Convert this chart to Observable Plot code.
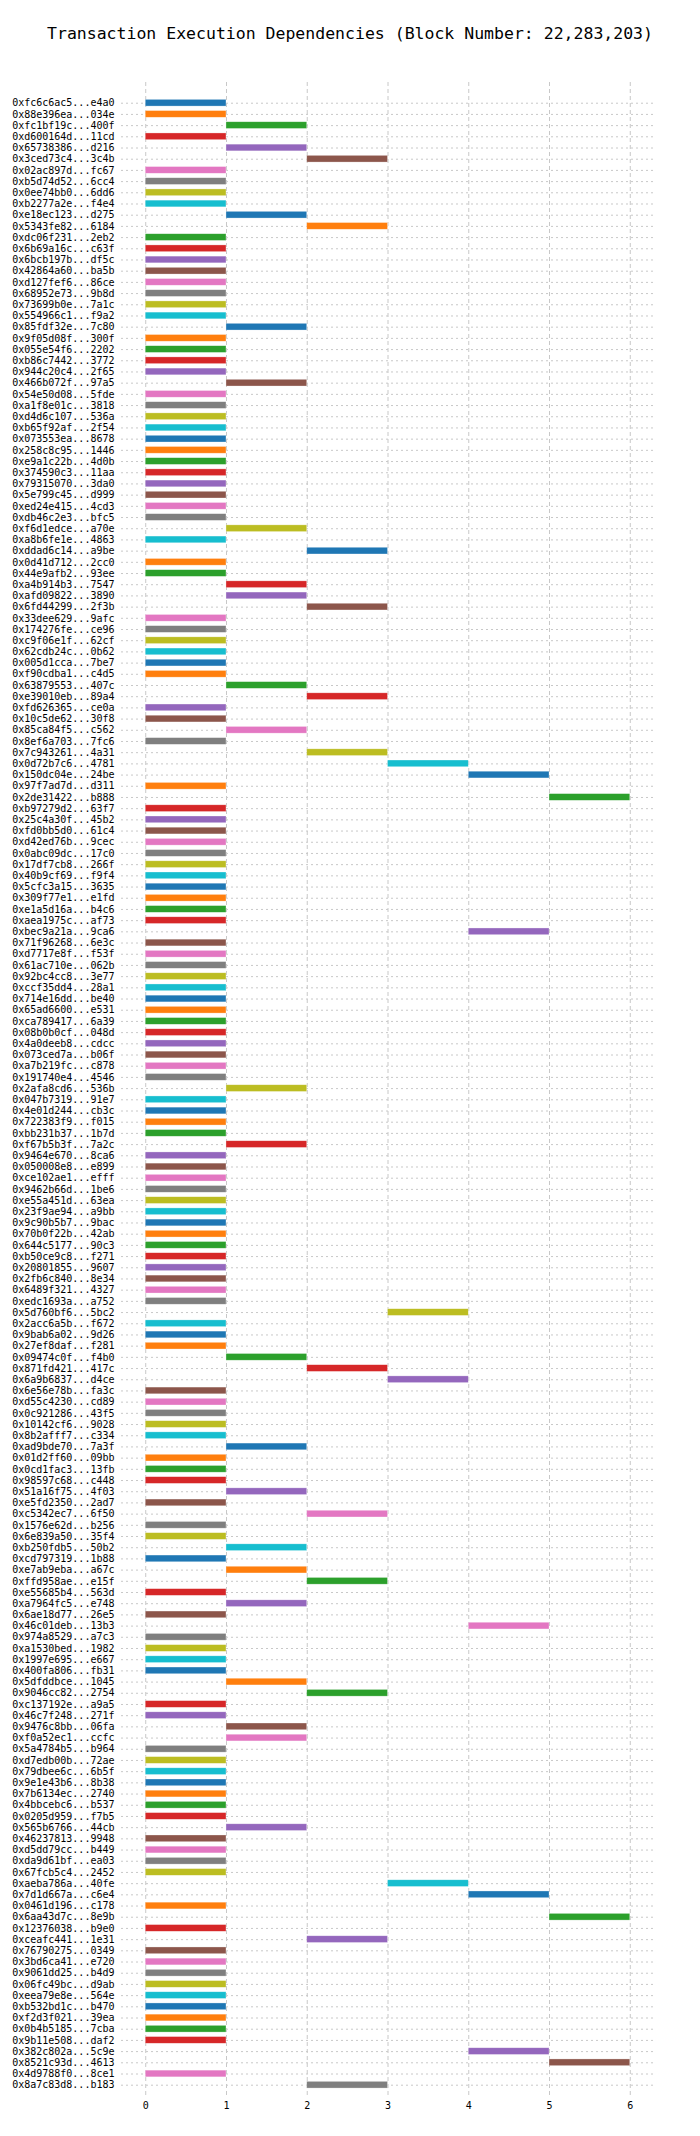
<!DOCTYPE html>
<html>
<head>
<meta charset="utf-8">
<script src="https://cdn.jsdelivr.net/npm/d3@7"></script>
<script src="https://cdn.jsdelivr.net/npm/@observablehq/plot@0.6"></script>
<style>
  html, body { margin: 0; padding: 0; background: #fff; }
  #title { box-sizing: border-box; height: 64px; padding-top: 24px; line-height: 20px;
           text-align: center; font-family: "DejaVu Sans Mono", monospace; font-size: 16.5px; color: #000; }
</style>
</head>
<body>
<div id="title">Transaction Execution Dependencies (Block Number: 22,283,203)</div>
<div id="chart"></div>
<script>
const txLabels = [
  "0xfc6c6ac5...e4a0","0x88e396ea...034e","0xfc1bf19c...400f","0xd600164d...11cd","0x65738386...d216",
  "0x3ced73c4...3c4b","0x02ac897d...fc67","0xb5d74d52...6cc4","0x0ee74bb0...6dd6","0xb2277a2e...f4e4",
  "0xe18ec123...d275","0x5343fe82...6184","0xdc06f231...2eb2","0x6b69a16c...c63f","0x6bcb197b...df5c",
  "0x42864a60...ba5b","0xd127fef6...86ce","0x68952e73...9b8d","0x73699b0e...7a1c","0x554966c1...f9a2",
  "0x85fdf32e...7c80","0x9f05d08f...300f","0x055e54f6...2202","0xb86c7442...3772","0x944c20c4...2f65",
  "0x466b072f...97a5","0x54e50d08...5fde","0xa1f8e01c...3818","0xd4d6c107...536a","0xb65f92af...2f54",
  "0x073553ea...8678","0x258c8c95...1446","0xe9a1c22b...4d0b","0x374590c3...11aa","0x79315070...3da0",
  "0x5e799c45...d999","0xed24e415...4cd3","0xdb46c2e3...bfc5","0xf6d1edce...a70e","0xa8b6fe1e...4863",
  "0xddad6c14...a9be","0x0d41d712...2cc0","0x44e9afb2...93ee","0xa4b914b3...7547","0xafd09822...3890",
  "0x6fd44299...2f3b","0x33dee629...9afc","0x174276fe...ce96","0xc9f06e1f...62cf","0x62cdb24c...0b62",
  "0x005d1cca...7be7","0xf90cdba1...c4d5","0x63879553...407c","0xe39010eb...89a4","0xfd626365...ce0a",
  "0x10c5de62...30f8","0x85ca84f5...c562","0x8ef6a703...7fc6","0x7c943261...4a31","0x0d72b7c6...4781",
  "0x150dc04e...24be","0x97f7ad7d...d311","0x2de31422...b888","0xb97279d2...63f7","0x25c4a30f...45b2",
  "0xfd0bb5d0...61c4","0xd42ed76b...9cec","0x0abc09dc...17c0","0x17df7cb8...266f","0x40b9cf69...f9f4",
  "0x5cfc3a15...3635","0x309f77e1...e1fd","0xe1a5d16a...b4c6","0xaea1975c...af73","0xbec9a21a...9ca6",
  "0x71f96268...6e3c","0xd7717e8f...f53f","0x61ac710e...062b","0x92bc4cc8...3e77","0xccf35dd4...28a1",
  "0x714e16dd...be40","0x65ad6600...e531","0xca789417...6a39","0x08b0b0cf...048d","0x4a0deeb8...cdcc",
  "0x073ced7a...b06f","0xa7b219fc...c878","0x191740e4...4546","0x2afa8cd6...536b","0x047b7319...91e7",
  "0x4e01d244...cb3c","0x722383f9...f015","0xbb231b37...1b7d","0xf67b5b3f...7a2c","0x9464e670...8ca6",
  "0x050008e8...e899","0xce102ae1...efff","0x9462b66d...1be6","0xe55a451d...63ea","0x23f9ae94...a9bb",
  "0x9c90b5b7...9bac","0x70b0f22b...42ab","0x644c5177...90c3","0xb50ce9c8...f271","0x20801855...9607",
  "0x2fb6c840...8e34","0x6489f321...4327","0xedc1693a...a752","0x5d760bf6...5bc2","0x2acc6a5b...f672",
  "0x9bab6a02...9d26","0x27ef8daf...f281","0x09474c0f...f4b0","0x871fd421...417c","0x6a9b6837...d4ce",
  "0x6e56e78b...fa3c","0xd55c4230...cd89","0x0c921286...43f5","0x10142cf6...9028","0x8b2afff7...c334",
  "0xad9bde70...7a3f","0x01d2ff60...09bb","0x0cd1fac3...13fb","0x98597c68...c448","0x51a16f75...4f03",
  "0xe5fd2350...2ad7","0xc5342ec7...6f50","0x1576e62d...b256","0x6e839a50...35f4","0xb250fdb5...50b2",
  "0xcd797319...1b88","0xe7ab9eba...a67c","0xffd958ae...e15f","0xe55685b4...563d","0xa7964fc5...e748",
  "0x6ae18d77...26e5","0x46c01deb...13b3","0x974a8529...a7c3","0xa1530bed...1982","0x1997e695...e667",
  "0x400fa806...fb31","0x5dfddbce...1045","0x9046cc82...2754","0xc137192e...a9a5","0x46c7f248...271f",
  "0x9476c8bb...06fa","0xf0a52ec1...ccfc","0x5a4784b5...b964","0xd7edb00b...72ae","0x79dbee6c...6b5f",
  "0x9e1e43b6...8b38","0x7b6134ec...2740","0x4bbcebc6...b537","0x0205d959...f7b5","0x565b6766...44cb",
  "0x46237813...9948","0xd5dd79cc...b449","0xda9d61bf...ea03","0x67fcb5c4...2452","0xaeba786a...40fe",
  "0x7d1d667a...c6e4","0x0461d196...c178","0x6aa43d7c...8e9b","0x12376038...b9e0","0xceafc441...1e31",
  "0x76790275...0349","0x3bd6ca41...e720","0x9061dd25...b4d9","0x06fc49bc...d9ab","0xeea79e8e...564e",
  "0xb532bd1c...b470","0xf2d3f021...39ea","0x0b4b5185...7cba","0x9b11e508...daf2","0x382c802a...5c9e",
  "0x8521c93d...4613","0x4d9788f0...8ce1","0x8a7c83d8...b183"
];
const startSlots = [
  0,0,1,0,1,2,0,0,0,0,1,2,0,0,0,
  0,0,0,0,0,1,0,0,0,0,1,0,0,0,0,
  0,0,0,0,0,0,0,0,1,0,2,0,0,1,1,
  2,0,0,0,0,0,0,1,2,0,0,1,0,2,3,
  4,0,5,0,0,0,0,0,0,0,0,0,0,0,4,
  0,0,0,0,0,0,0,0,0,0,0,0,0,1,0,
  0,0,0,1,0,0,0,0,0,0,0,0,0,0,0,
  0,0,0,3,0,0,0,1,2,3,0,0,0,0,0,
  1,0,0,0,1,0,2,0,0,1,0,1,2,0,1,
  0,4,0,0,0,0,1,2,0,0,1,1,0,0,0,
  0,0,0,0,1,0,0,0,0,3,4,0,5,0,2,
  0,0,0,0,0,0,0,0,0,4,5,0,2
];
const durations = startSlots.map(() => 1);
const xTicks = [0, 1, 2, 3, 4, 5, 6];

const rows = txLabels.map((label, i) => ({
  i, label, start: startSlots[i], end: startSlots[i] + durations[i], c: i % 10
}));
const idx = rows.map(d => d.i);

const chart = Plot.plot({
  width: 700,
  height: 2072,
  marginTop: 18,
  marginBottom: 41,
  marginLeft: 121,
  marginRight: 46,
  style: { fontFamily: "DejaVu Sans Mono, monospace", fontSize: "10px", color: "#000", background: "#fff" },
  x: { domain: [-0.3, 6.3], ticks: xTicks, tickSize: 0, tickPadding: 6, label: null, tickFormat: d => String(d) },
  y: { domain: [-1.85, 177.92], reverse: true, label: null },
  color: { type: "ordinal", domain: d3.range(10), range: d3.schemeCategory10 },
  marks: [
    Plot.ruleY(idx, { stroke: "#c8c8c8", strokeWidth: 1, strokeDasharray: "2,3" }),
    Plot.ruleX(xTicks, { stroke: "#c8c8c8", strokeWidth: 1, strokeDasharray: "4,3" }),
    Plot.rect(rows, {
      x1: "start", x2: "end",
      y1: d => d.i - 0.3, y2: d => d.i + 0.3,
      fill: "c", stroke: "white", strokeWidth: 0.6, strokeOpacity: 0.5
    }),
    Plot.axisY(idx, { tickSize: 0, tickPadding: 7, tickFormat: i => txLabels[i], fontSize: 10, label: null }),
    Plot.axisX(xTicks, { tickSize: 0, tickPadding: 6, fontSize: 10, label: null })
  ]
});
document.getElementById("chart").appendChild(chart);
</script>
</body>
</html>
